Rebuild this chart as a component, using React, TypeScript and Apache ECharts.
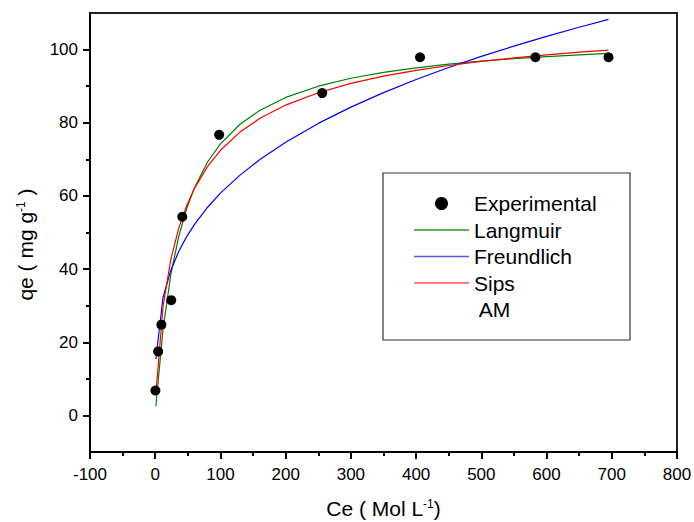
import React, { useEffect, useRef } from "react";
import * as echarts from "echarts";

// Experimental points (Ce, qe)
const expCe = [0.3, 4.5, 9.5, 24.5, 41.5, 98, 256, 406, 583, 695];
const expQe = [6.8, 17.5, 24.8, 31.5, 54.3, 76.7, 88.1, 97.9, 97.9, 97.9];

// Fitted curves sampled at these Ce values
const fitCe = [1, 12, 24, 36, 48, 60, 80, 100, 130, 160, 200, 250, 300, 350, 400, 450, 500, 550, 600, 650, 695];
const langmuirQe = [2.49, 23.66, 38.6, 48.9, 56.43, 62.16, 69.2, 74.24, 79.6, 83.36, 86.92, 89.99, 92.16, 93.77, 95.02, 96.02, 96.83, 97.51, 98.07, 98.56, 98.94];
const freundlichQe = [15.4, 32.29, 39.7, 44.8, 48.81, 52.17, 56.84, 60.75, 65.68, 69.88, 74.68, 79.82, 84.27, 88.24, 91.82, 95.1, 98.14, 100.96, 103.61, 106.11, 108.25];
const sipsQe = [5.83, 29.86, 42.71, 51.12, 57.25, 62.0, 68.0, 72.47, 77.45, 81.14, 84.83, 88.21, 90.75, 92.73, 94.33, 95.65, 96.77, 97.72, 98.55, 99.28, 99.86];

const legendNames = ["Experimental", "Langmuir", "Freundlich", "Sips", "AM"];
const legendIconColors: Record<string, string> = { Langmuir: "#2a9a2a", Freundlich: "#5555ff", Sips: "#ff5555" };
const yMajorTicks = [0, 20, 40, 60, 80, 100];
const yMinorTicks = [10, 30, 50, 70, 90];

const FONT = 'Arial, "Liberation Sans", Helvetica, sans-serif';
const LINE_ICON = "path://M0,0H55V1.3H0Z";

const pair = (xs: number[], ys: number[]) => xs.map((x, i) => [x, ys[i]]);

export default function App() {
  const ref = useRef<HTMLDivElement>(null);
  useEffect(() => {
    document.body.style.margin = "0";
    if (!ref.current) return;
    const chart = echarts.init(ref.current, null, { renderer: "svg" });
    const axisLineStyle = { color: "#000", width: 2 };
    chart.setOption({
      animation: false,
      backgroundColor: "#fff",
      grid: {
        left: 90,
        right: 17,
        top: 13,
        bottom: 70,
        show: true,
        borderColor: "#222",
        borderWidth: 2,
        backgroundColor: "transparent",
        outerBoundsMode: "none",
      },
      xAxis: {
        type: "value",
        min: -100,
        max: 800,
        interval: 100,
        axisLine: { show: true, onZero: false, lineStyle: axisLineStyle },
        axisTick: { show: true, inside: false, length: 7, lineStyle: axisLineStyle },
        minorTick: { show: true, splitNumber: 2, length: 4, lineStyle: axisLineStyle },
        splitLine: { show: false },
        minorSplitLine: { show: false },
        axisLabel: { fontSize: 17, color: "#000", fontFamily: FONT, margin: 14 },
        name: "{a|Ce ( Mol L}{s|-1}{a|)}",
        nameLocation: "middle",
        nameGap: 46,
        nameTextStyle: {
          rich: {
            a: { fontSize: 21, color: "#000", fontFamily: FONT },
            s: { fontSize: 12, color: "#000", fontFamily: FONT, verticalAlign: "top" },
          },
        },
      },
      yAxis: [
        {
          type: "value",
          min: -10,
          max: 110,
          interval: 10,
          axisLine: { show: true, onZero: false, lineStyle: axisLineStyle },
          axisTick: { show: true, inside: false, length: 7, lineStyle: axisLineStyle, customValues: yMajorTicks },
          splitLine: { show: false },
          axisLabel: { fontSize: 17, color: "#000", fontFamily: FONT, margin: 12, customValues: yMajorTicks },
          name: "{a|qe ( mg g}{s|-1}{a| )}",
          nameLocation: "middle",
          nameGap: 54,
          nameTextStyle: {
            padding: [0, 24, 0, 0],
            rich: {
              a: { fontSize: 21, color: "#000", fontFamily: FONT },
              s: { fontSize: 12, color: "#000", fontFamily: FONT, verticalAlign: "top" },
            },
          },
        },
        {
          type: "value",
          min: -10,
          max: 110,
          interval: 10,
          position: "left",
          axisLine: { show: false, onZero: false },
          axisTick: { show: true, inside: false, length: 4, lineStyle: axisLineStyle, customValues: yMinorTicks },
          axisLabel: { show: false },
          splitLine: { show: false },
        },
      ],
      legend: {
        orient: "vertical",
        left: 414,
        top: 193,
        itemWidth: 55,
        itemHeight: 13,
        itemGap: 5.5,
        padding: 0,
        textStyle: { fontSize: 21, color: "#000", fontFamily: FONT, lineHeight: 20 },
        data: legendNames.map((n) =>
          n === "AM"
            ? { name: n, icon: "none" }
            : n === "Experimental"
            ? { name: n, icon: "circle" }
            : { name: n, icon: LINE_ICON, itemStyle: { color: legendIconColors[n] } }
        ),
        formatter: (n: string) => (n === "AM" ? " AM" : n),
      },
      graphic: [
        {
          type: "rect",
          shape: { x: 383, y: 173, width: 247, height: 167 },
          style: { fill: "none", stroke: "#333", lineWidth: 1.2 },
          silent: true,
        },
      ],
      series: [
        {
          name: "Langmuir",
          type: "line",
          data: pair(fitCe, langmuirQe),
          symbol: "none",
          lineStyle: { color: "#008000", width: 1.2 },
          itemStyle: { color: "#008000" },
        },
        {
          name: "Freundlich",
          type: "line",
          data: pair(fitCe, freundlichQe),
          symbol: "none",
          lineStyle: { color: "#0000ff", width: 1.2 },
          itemStyle: { color: "#0000ff" },
        },
        {
          name: "Sips",
          type: "line",
          data: pair(fitCe, sipsQe),
          symbol: "none",
          lineStyle: { color: "#ff0000", width: 1.2 },
          itemStyle: { color: "#ff0000" },
        },
        {
          name: "AM",
          type: "line",
          data: [],
          symbol: "none",
          lineStyle: { color: "#000", width: 0 },
          itemStyle: { color: "#000" },
        },
        {
          name: "Experimental",
          type: "scatter",
          data: pair(expCe, expQe),
          symbol: "circle",
          symbolSize: 10,
          itemStyle: { color: "#000", opacity: 1 },
          z: 5,
        },
      ],
    });
    return () => chart.dispose();
  }, []);
  return <div ref={ref} style={{ width: 694, height: 522 }} />;
}
